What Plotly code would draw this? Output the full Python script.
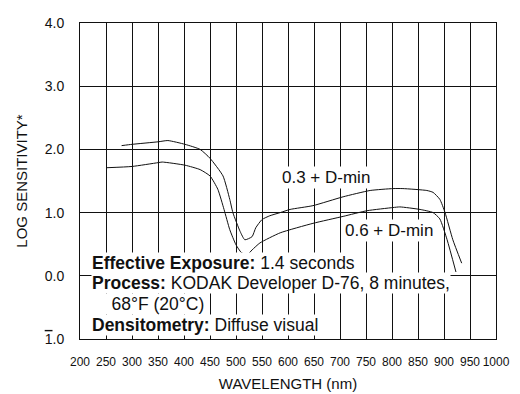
import plotly.graph_objects as go

# Spectral sensitivity curves (wavelength nm, log sensitivity)
wl_03 = [280, 300, 350, 369, 402, 431, 450, 475, 488, 494, 508, 517, 531, 538, 550, 565, 585, 604, 648, 706, 758, 802, 821, 867, 879, 892, 902, 917, 934]
ls_03 = [2.06, 2.08, 2.12, 2.14, 2.08, 2.00, 1.86, 1.58, 1.21, 1.00, 0.70, 0.57, 0.62, 0.76, 0.89, 0.95, 1.00, 1.05, 1.11, 1.25, 1.35, 1.38, 1.38, 1.35, 1.32, 1.21, 1.00, 0.57, 0.20]

wl_06 = [251, 300, 350, 358, 402, 431, 450, 465, 477, 488, 500, 510, 521, 531, 546, 585, 648, 706, 752, 802, 815, 854, 879, 892, 906, 923]
ls_06 = [1.71, 1.73, 1.79, 1.80, 1.75, 1.68, 1.58, 1.37, 1.05, 0.73, 0.49, 0.37, 0.33, 0.41, 0.52, 0.68, 0.83, 0.94, 1.03, 1.08, 1.09, 1.05, 1.00, 0.90, 0.57, 0.06]

x_ticks = list(range(200, 1001, 50))
y_ticks = [-1, 0, 1, 2, 3, 4]
y_ticktext = ["<span style='text-decoration:overline'>1</span>.0", "0.0", "1.0", "2.0", "3.0", "4.0"]

series_labels = ["0.3 + D-min", "0.6 + D-min"]
info_lines = [
    "<b>Effective Exposure:</b> 1.4 seconds",
    "<b>Process:</b> KODAK Developer D-76, 8 minutes,",
    "&nbsp;&nbsp;&nbsp;&nbsp;68°F (20°C)",
    "<b>Densitometry:</b> Diffuse visual",
]

FONT = "Liberation Sans, Arial, sans-serif"
INK = "#111111"

fig = go.Figure()
fig.add_trace(go.Scatter(x=wl_03, y=ls_03, mode="lines",
                         line=dict(color=INK, width=1, shape="spline", smoothing=0.5),
                         showlegend=False, hoverinfo="skip"))
fig.add_trace(go.Scatter(x=wl_06, y=ls_06, mode="lines",
                         line=dict(color=INK, width=1, shape="spline", smoothing=0.5),
                         showlegend=False, hoverinfo="skip"))

# curve labels (white background hides the grid)
fig.add_annotation(x=585, y=1.55, xref="x", yref="y", text=series_labels[0],
                   showarrow=False, xanchor="left", yanchor="middle",
                   bgcolor="white", borderpad=1,
                   font=dict(family=FONT, size=17, color=INK))
fig.add_annotation(x=706, y=0.71, xref="x", yref="y", text=series_labels[1],
                   showarrow=False, xanchor="left", yanchor="middle",
                   bgcolor="white", borderpad=1,
                   font=dict(family=FONT, size=17, color=INK))

info_y = [0.21, -0.12, -0.45, -0.78]
for line, yy in zip(info_lines, info_y):
    fig.add_annotation(x=222, y=yy, xref="x", yref="y", text=line,
                       showarrow=False, xanchor="left", yanchor="middle",
                       bgcolor="white", borderpad=0,
                       font=dict(family=FONT, size=17.5, color=INK))

fig.update_xaxes(range=[200, 1000], tickvals=x_ticks, ticktext=[str(v) for v in x_ticks],
                 showgrid=True, gridcolor=INK, gridwidth=1, zeroline=False,
                 showline=True, linecolor=INK, linewidth=1, mirror=True,
                 ticks="", ticklabelstandoff=12, tickangle=0, automargin=False,
                 tickfont=dict(family=FONT, size=12, color=INK),
                 title=dict(text="WAVELENGTH (nm)", standoff=10,
                            font=dict(family=FONT, size=15, color=INK)))
fig.update_yaxes(range=[-1, 4], tickvals=y_ticks, ticktext=y_ticktext,
                 showgrid=True, gridcolor=INK, gridwidth=1, zeroline=False,
                 showline=True, linecolor=INK, linewidth=1, mirror=True,
                 ticks="", ticklabelstandoff=12, automargin=False,
                 tickfont=dict(family=FONT, size=14, color=INK),
                 title=dict(text="LOG SENSITIVITY*", standoff=13,
                            font=dict(family=FONT, size=15, color=INK)))

fig.update_layout(width=520, height=394, margin=dict(l=80, r=24, t=23, b=55),
                  paper_bgcolor="white", plot_bgcolor="white", showlegend=False)

fig.write_html("out.html", config={"displayModeBar": False},
               post_script="document.body.style.margin='0';document.body.style.overflow='hidden';")
